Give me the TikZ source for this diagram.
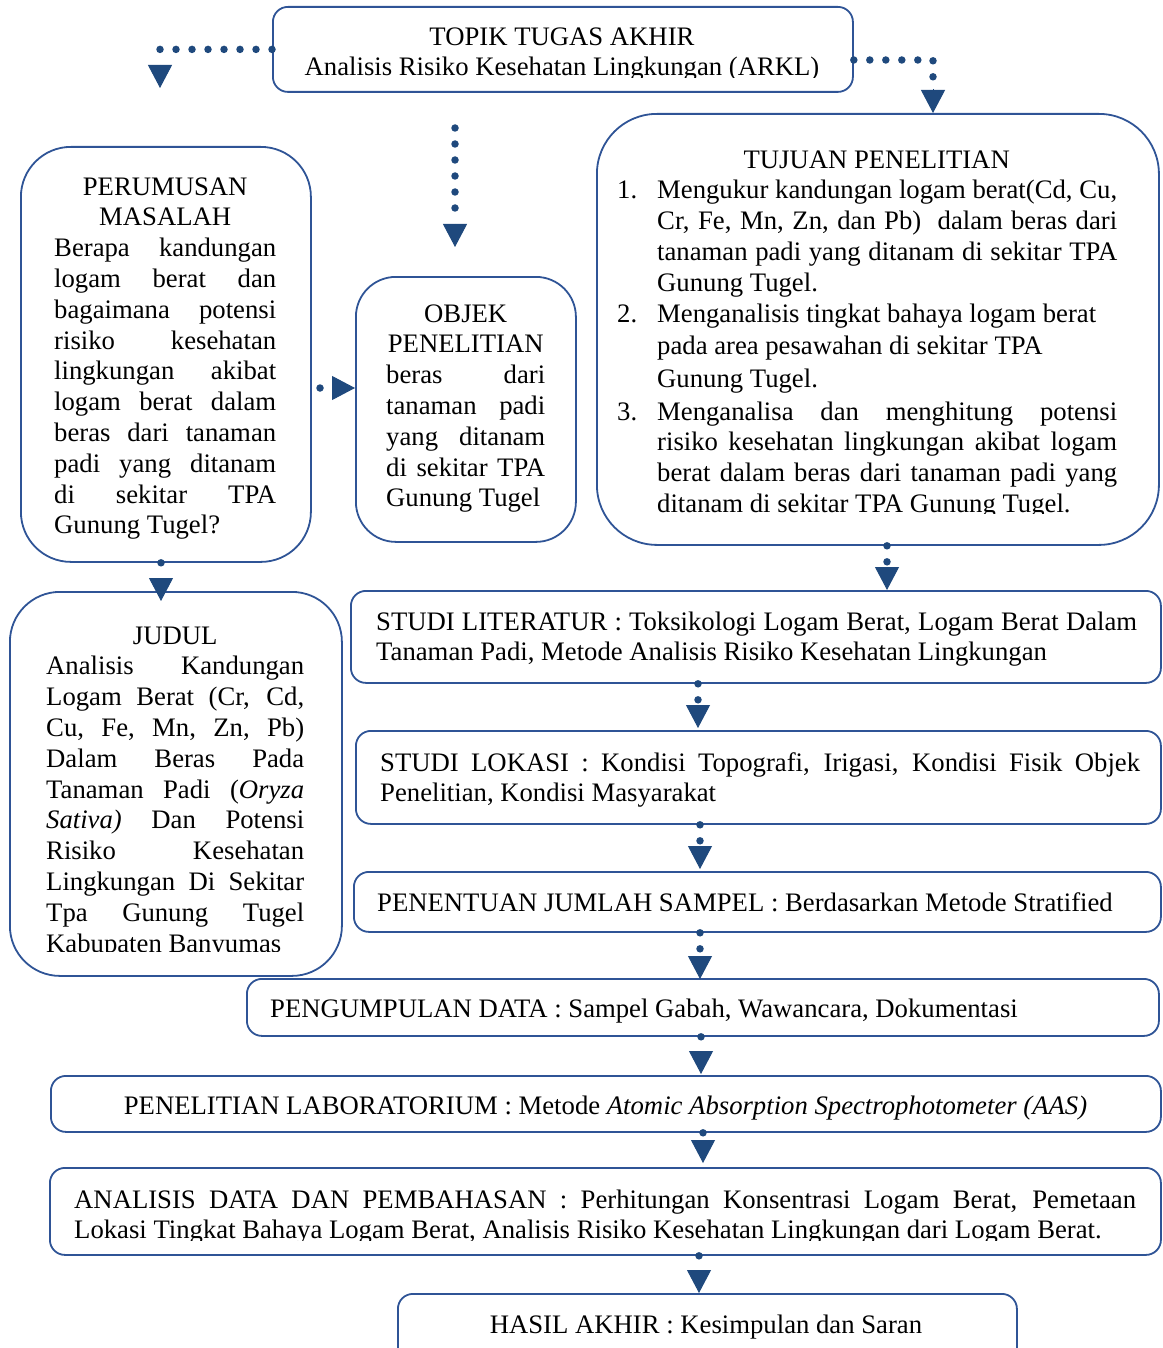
\documentclass[tikz,border=0pt]{standalone}
\usepackage{fontspec}
\setmainfont{Liberation Serif}
\usetikzlibrary{arrows.meta,calc}
\definecolor{boxcol}{HTML}{2F5496}
\definecolor{arrowcol}{HTML}{1F497D}
\newcommand{\J}[2]{\makebox[#1][s]{#2}}
\newcommand{\C}[2]{\makebox[#1]{#2}}
\newcommand{\N}[1]{\makebox[40pt][l]{#1}}
\newcommand{\I}{\hspace*{40pt}}
\begin{document}
\begin{tikzpicture}[x=1pt,y=-1pt,
  box/.style={draw=boxcol, line width=1.8pt, rounded corners=#1, inner sep=0pt, anchor=north west},
  txt/.style={inner sep=0pt, align=left, font=\fontsize{26.7}{30.8}\selectfont, text=black},
  dotl/.style={draw=arrowcol, line width=7.5pt, line cap=round, dash pattern=on 0pt off 16pt},
  tipst/.style={draw=arrowcol, line width=1pt, -{Triangle[length=23pt,width=24pt]}}]
\useasboundingbox (0,0) rectangle (1162,1348);
\clip (0,0) rectangle (1162,1348);

% boxes
\node[box=15pt, minimum width=580pt, minimum height=85pt] (topik) at (272,6) {};
\node[box=50pt, minimum width=290pt, minimum height=415pt] (perum) at (20,146) {};
\node[box=40pt, minimum width=220pt, minimum height=265pt] (objek) at (355,276) {};
\node[box=60pt, minimum width=562pt, minimum height=431pt] (tujuan) at (596,113) {};
\node[box=50pt, minimum width=332pt, minimum height=384pt] (judul) at (9,591) {};
\node[box=15pt, minimum width=810pt, minimum height=92pt] (lit) at (350,590) {};
\node[box=15pt, minimum width=805pt, minimum height=93pt] (lok) at (355,730) {};
\node[box=15pt, minimum width=807pt, minimum height=60pt] (pen) at (353,871) {};
\node[box=15pt, minimum width=912pt, minimum height=57pt] (peng) at (246,978) {};
\node[box=15pt, minimum width=1110pt, minimum height=56pt] (lab) at (50,1075) {};
\node[box=15pt, minimum width=1111pt, minimum height=87pt] (anal) at (49,1167) {};
\node[box=15pt, minimum width=619pt, minimum height=70pt] (hasil) at (397,1293) {};

% texts
\begin{scope}
\clip (272,6) rectangle (852,77.5);
\node[txt, align=center, anchor=north] (topikT) at (562,23.4) {\strut TOPIK TUGAS AKHIR\\Analisis Risiko Kesehatan Lingkungan (ARKL)};
\end{scope}

\node[txt, anchor=north west] (perumT) at (54,173.4) {\strut\C{222pt}{PERUMUSAN}\\\C{222pt}{MASALAH}\\\J{222pt}{Berapa kandungan}\\\J{222pt}{logam berat dan}\\\J{222pt}{bagaimana potensi}\\\J{222pt}{risiko kesehatan}\\\J{222pt}{lingkungan akibat}\\\J{222pt}{logam berat dalam}\\\J{222pt}{beras dari tanaman}\\\J{222pt}{padi yang ditanam}\\\J{222pt}{di sekitar TPA}\\Gunung Tugel?};

\node[txt, anchor=north west] (objekT) at (386,300.4) {\strut\C{159pt}{OBJEK}\\\C{159pt}{PENELITIAN}\\\J{159pt}{beras dari}\\\J{159pt}{tanaman padi}\\\J{159pt}{yang ditanam}\\\J{159pt}{di sekitar TPA}\\Gunung Tugel};

\begin{scope}
\clip (596,113) rectangle (1158,513);
\node[txt, anchor=north west] (tujuanT) at (617,146.4) {\strut\C{500pt}{\hspace{19pt}TUJUAN PENELITIAN}\\
\N{1.}\J{460pt}{Mengukur kandungan logam berat(Cd, Cu,}\\
\I\J{460pt}{Cr, Fe, Mn, Zn, dan Pb)~~dalam beras dari}\\
\I\J{460pt}{tanaman padi yang ditanam di sekitar TPA}\\
\I Gunung Tugel.\\
\N{2.}Menganalisis tingkat bahaya logam berat\\[2pt]
\I pada area pesawahan di sekitar TPA\\[1.5pt]
\I Gunung Tugel.\\[2pt]
\N{3.}\J{460pt}{Menganalisa dan menghitung potensi}\\
\I\J{460pt}{risiko kesehatan lingkungan akibat logam}\\
\I\J{460pt}{berat dalam beras dari tanaman padi yang}\\
\I ditanam di sekitar TPA Gunung Tugel.};
\end{scope}

\begin{scope}
\clip (9,591) rectangle (341,951);
\node[txt, anchor=north west] (judulT) at (46,622.4) {\strut\C{258pt}{JUDUL}\\\J{258pt}{Analisis Kandungan}\\\J{258pt}{Logam Berat (Cr, Cd,}\\\J{258pt}{Cu, Fe, Mn, Zn, Pb)}\\\J{258pt}{Dalam Beras Pada}\\\J{258pt}{Tanaman Padi (\textit{Oryza}}\\\J{258pt}{\textit{Sativa)} Dan Potensi}\\\J{258pt}{Risiko Kesehatan}\\\J{258pt}{Lingkungan Di Sekitar}\\\J{258pt}{Tpa Gunung Tugel}\\Kabupaten Banyumas};
\end{scope}

\node[txt, anchor=north west] (litT) at (376,608.4) {\strut\J{761pt}{STUDI LITERATUR : Toksikologi Logam Berat, Logam Berat Dalam}\\Tanaman Padi, Metode Analisis Risiko Kesehatan Lingkungan};
\node[txt, anchor=north west] (lokT) at (380,749.4) {\strut\J{760pt}{STUDI LOKASI : Kondisi Topografi, Irigasi, Kondisi Fisik Objek}\\Penelitian, Kondisi Masyarakat};
\node[txt, anchor=north west] (penT) at (377,889.4) {\strut PENENTUAN JUMLAH SAMPEL : Berdasarkan Metode Stratified};
\node[txt, anchor=north west] (pengT) at (270,995.4) {\strut PENGUMPULAN DATA : Sampel Gabah, Wawancara, Dokumentasi};
\node[txt, anchor=north] (labT) at (605.5,1092.4) {\strut PENELITIAN LABORATORIUM : Metode \textit{Atomic Absorption Spectrophotometer (AAS)}};
\begin{scope}
\clip (49,1167) rectangle (1160,1240.5);
\node[txt, anchor=north west] (analT) at (74,1186.4) {\strut\J{1062pt}{ANALISIS DATA DAN PEMBAHASAN : Perhitungan Konsentrasi Logam Berat, Pemetaan}\\Lokasi Tingkat Bahaya Logam Berat, Analisis Risiko Kesehatan Lingkungan dari Logam Berat.};
\end{scope}
\node[txt, anchor=north] (hasilT) at (706,1311.4) {\strut HASIL AKHIR : Kesimpulan dan Saran};

% connectors
\coordinate (tl) at (160,88);
\draw[dotl] (topik.west) -| ($(tl)+(0,-24)$);
\draw[tipst] ($(tl)+(0,-23)$) -- (tl);

\coordinate (tr) at (933,113);
\coordinate (tr0) at (933,60);
\draw[dotl] (topik.east |- tr0) -| ($(tr)+(0,-25)$);
\draw[tipst] ($(tr)+(0,-24)$) -- (tr);

\coordinate (m1) at (455,128);
\coordinate (m2) at (455,247);
\draw[dotl] (m1) -- ($(m2)+(0,-24)$);
\draw[tipst] ($(m2)+(0,-23)$) -- (m2);

\coordinate (po) at (355,388);
\draw[dotl] ($(po)+(-35,0)$) -- ($(po)+(-24,0)$);
\draw[tipst] ($(po)+(-23,0)$) -- (po);

\foreach \a/\b/\x/\d in {perum/judul/161/10, tujuan/lit/887/0, lit/lok/698/-2, lok/pen/700/-2, pen/peng/700/1, peng/lab/701/-1, lab/anal/703/-4, anal/hasil/699/0}{
  \path (\x,0) coordinate (cx);
  \draw[dotl] (\a.south -| cx) -- ($(\b.north -| cx)+(0,\d-24)$);
  \draw[tipst] ($(\b.north -| cx)+(0,\d-23)$) -- ($(\b.north -| cx)+(0,\d)$);
}
\end{tikzpicture}
\end{document}
